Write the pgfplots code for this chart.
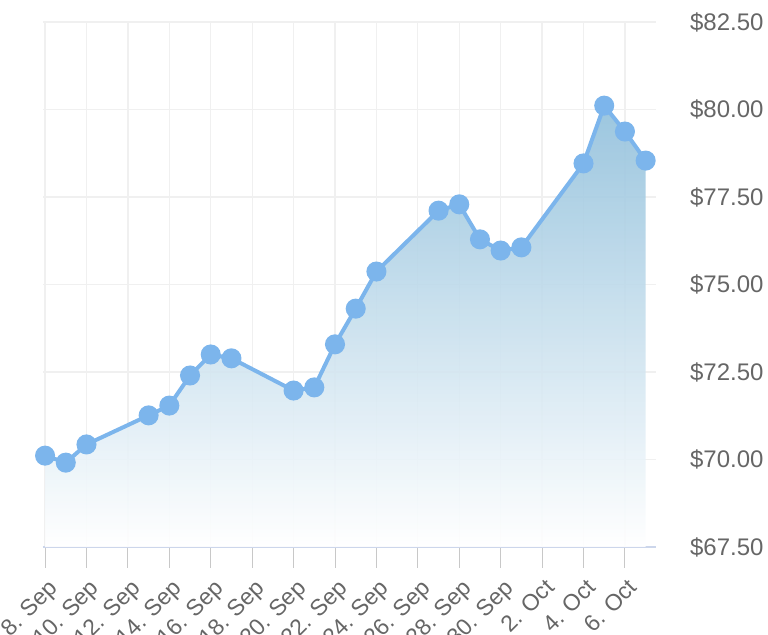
\documentclass[border=0pt]{standalone}
\usepackage{pgfplots}
\pgfplotsset{compat=1.18}
\usepackage{pgfplotstable}
\usepackage{fontspec}
\setmainfont{Liberation Sans}
\definecolor{linec}{HTML}{7CB5EC}
\definecolor{fillc}{HTML}{93C1DC}
\definecolor{gridc}{HTML}{F0F0F0}
\definecolor{axc}{HTML}{CCD6EB}
\definecolor{tickc}{HTML}{C8C8C8}
\definecolor{txt}{HTML}{666666}
\pgfplotstableread{
day value
0 70.11
1 69.91
2 70.43
5 71.26
6 71.54
7 72.40
8 73.00
9 72.89
12 71.97
13 72.06
14 73.29
15 74.31
16 75.37
19 77.11
20 77.29
21 76.29
22 75.97
23 76.06
26 78.46
27 80.11
28 79.37
29 78.54
}\prices
\begin{document}
\begin{tikzpicture}
\begin{axis}[
  scale only axis,
  width=306.5pt, height=262.5pt,
  xmin=-0.1, xmax=29.5,
  ymin=67.5, ymax=82.5,
  xtick={0,2,...,28},
  xticklabels={8. Sep,10. Sep,12. Sep,14. Sep,16. Sep,18. Sep,20. Sep,22. Sep,24. Sep,26. Sep,28. Sep,30. Sep,2. Oct,4. Oct,6. Oct},
  ytick={67.5,70,...,82.5},
  yticklabel={\$\pgfmathprintnumber[fixed,fixed zerofill,precision=2]{\tick}},
  /pgf/number format/assume math mode=true,
  axis x line*=bottom,
  axis y line*=right,
  x axis line style={-, draw=axc, line width=1pt},
  y axis line style={draw=none},
  xtick pos=bottom,
  tick align=outside,
  major tick length=10.5pt,
  x tick style={draw=tickc, line width=0.5pt},
  y tick style={draw=none},
  grid=major,
  major grid style={draw=gridc, line width=0.6pt},
  tick label style={font=\fontsize{12}{14}\selectfont, text=txt},
  x tick label style={rotate=45, anchor=north east, inner sep=1pt, xshift=-1.5pt, yshift=-3pt, font=\fontsize{11.5}{14}\selectfont},
  y tick label style={anchor=west, xshift=3pt},
  clip=true,
]
\addplot[draw=none, shading=axis, top color=fillc, bottom color=white, fill opacity=0.92]
  table[x=day, y=value]{\prices} -- (axis cs:29,67.5) -- (axis cs:0,67.5) -- cycle;
\addplot[color=linec, line width=2pt, mark=*, mark size=4pt, mark options={fill=linec, draw=none}]
  table[x=day, y=value]{\prices};
\end{axis}
\pgfresetboundingbox
\path[use as bounding box] ([xshift=-21.5pt,yshift=-44pt]current axis.south west) rectangle ([xshift=56pt,yshift=11pt]current axis.north east);
\end{tikzpicture}
\end{document}
